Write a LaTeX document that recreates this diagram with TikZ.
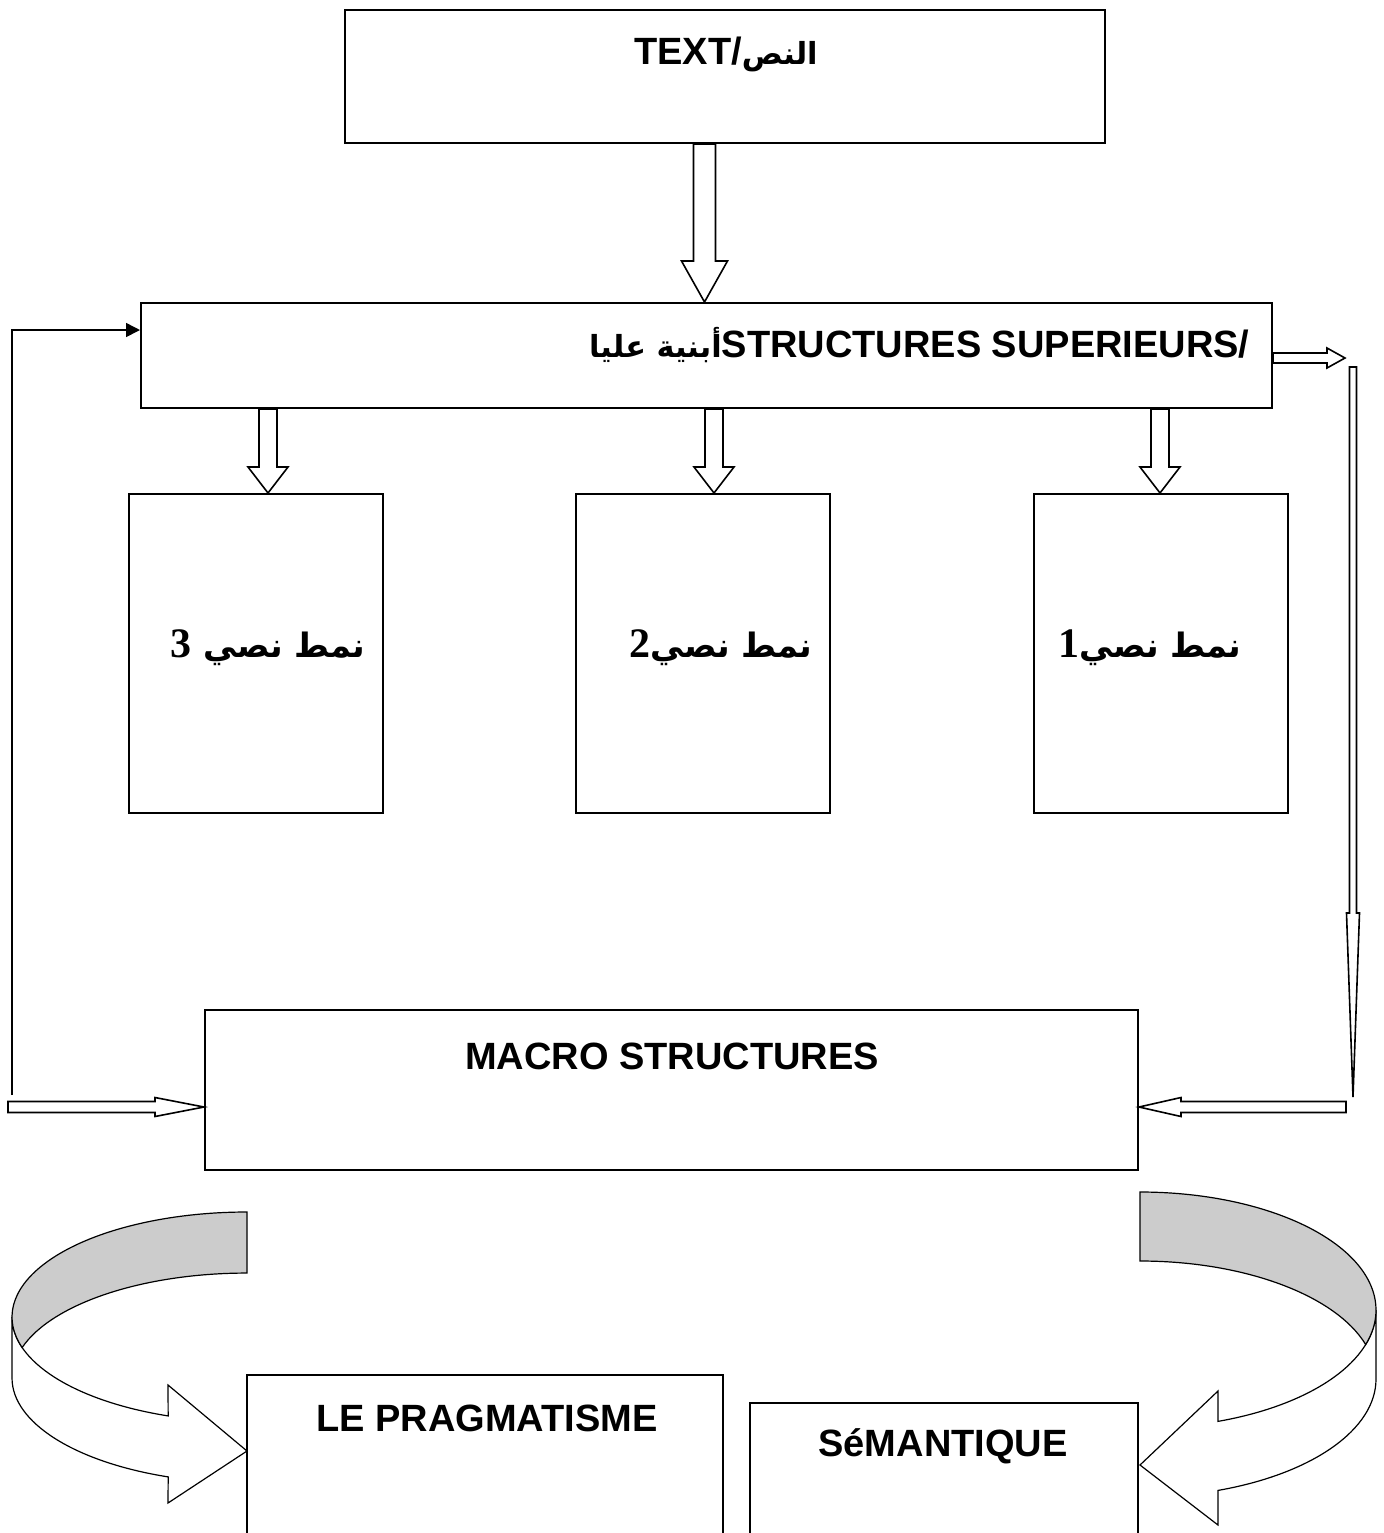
\documentclass[tikz,border=0pt]{standalone}
\usepackage{fontspec}
\setmainfont{Liberation Sans}
\newfontfamily\arabicfont[Script=Arabic, Scale=0.8]{DejaVu Sans}
\newfontfamily\numfont{Liberation Serif}
\TeXXeTstate=1
\usetikzlibrary{arrows.meta,calc}
\definecolor{bandG}{RGB}{204,204,204}

\begin{document}
\begin{tikzpicture}[x=0.5pt, y=0.5pt,
    box/.style={rectangle, draw=black, line width=1.0pt, inner sep=0pt},
    hollow/.style={draw=black, line width=0.8pt, fill=white},
    band/.style={draw=black, line width=0.6pt},
    lbl/.style={font=\fontsize{19}{23}\selectfont\bfseries, inner sep=0pt},
    ar/.style={font=\arabicfont\fontsize{21}{25}\selectfont\bfseries, inner sep=0pt},
  ]
  \useasboundingbox (0,0) rectangle (1383,-1533);
  \clip (0,0) rectangle (1383,-1533);

  % hollow block arrows: #1 start, #2 tip, #3 shaft half, #4 head half, #5 head length
  \newcommand{\downblk}[5]{%
    \draw[hollow] ($(#1)+(-#3,0)$) -- ($(#2)+(-#3,#5)$) -- ($(#2)+(-#4,#5)$) -- (#2)
      -- ($(#2)+(#4,#5)$) -- ($(#2)+(#3,#5)$) -- ($(#1)+(#3,0)$) -- cycle;}
  \newcommand{\rightblk}[5]{%
    \draw[hollow] ($(#1)+(0,#3)$) -- ($(#2)+(-#5,#3)$) -- ($(#2)+(-#5,#4)$) -- (#2)
      -- ($(#2)+(-#5,-#4)$) -- ($(#2)+(-#5,-#3)$) -- ($(#1)+(0,-#3)$) -- cycle;}
  \newcommand{\leftblk}[5]{%
    \draw[hollow] ($(#1)+(0,#3)$) -- ($(#2)+(#5,#3)$) -- ($(#2)+(#5,#4)$) -- (#2)
      -- ($(#2)+(#5,-#4)$) -- ($(#2)+(#5,-#3)$) -- ($(#1)+(0,-#3)$) -- cycle;}

  % boxes
  \node[box, minimum width=380pt, minimum height=66.5pt] (txt) at (725,-76.5) {};
  \node[lbl] (txtL) at (726,-54) {TEXT/{\arabicfont\beginR النص\endR}};

  \node[box, minimum width=565.5pt, minimum height=52.5pt] (sup) at (706.5,-355.5) {};
  \node[lbl, anchor=east] (supL) at (1250,-345)
    {{\arabicfont\beginR أبنية عليا\endR}STRUCTURES SUPERIEURS/};

  \node[box, minimum width=127pt, minimum height=159.5pt] (nt3) at (256,-653.5) {};
  \node[box, minimum width=127pt, minimum height=159.5pt] (nt2) at (703,-653.5) {};
  \node[box, minimum width=127pt, minimum height=159.5pt] (nt1) at (1161,-653.5) {};
  \node[ar, anchor=east] (nt3L) at (366,-648) {{\numfont 3} \beginR نمط نصي\endR};
  \node[ar, anchor=east] (nt2L) at (813,-648) {{\numfont 2}\beginR نمط نصي\endR};
  \node[ar, anchor=east] (nt1L) at (1242,-648) {{\numfont 1}\beginR نمط نصي\endR};

  \node[box, minimum width=466.5pt, minimum height=80pt] (macro) at (671.5,-1090) {};
  \node[lbl] (macroL) at (672,-1056) {MACRO STRUCTURES};

  \node[box, minimum width=238pt, minimum height=85pt] (prag) at (485,-1460) {};
  \node[lbl] (pragL) at (487,-1418) {LE PRAGMATISME};
  \node[box, minimum width=194pt, minimum height=71pt] (sem) at (944,-1474) {};
  \node[lbl] (semL) at (943,-1446) {SéMANTIQUE};

  % down arrows
  \coordinate (t0) at ($(sup.north)+(-2,0)$);
  \downblk{txt.south -| t0}{t0}{11}{23}{41}
  \coordinate (t3) at ($(nt3.north)+(12,0)$);
  \coordinate (t2) at ($(nt2.north)+(11,0)$);
  \coordinate (t1) at ($(nt1.north)+(-1,0)$);
  \downblk{sup.south -| t3}{t3}{9}{20}{26}
  \downblk{sup.south -| t2}{t2}{9}{20}{26}
  \downblk{sup.south -| t1}{t1}{9}{20}{26}

  % feedback loop on the left
  \coordinate (fbEnd) at (12,-1095);
  \draw[line width=0.8pt, -{Triangle[length=7pt,width=7pt]}] (fbEnd) |- ($(sup.west)+(0,25.5)$);
  \coordinate (blStart) at (8,-1107);
  \coordinate (blTip) at ($(macro.west)+(0,-17)$);
  \rightblk{blStart}{blTip}{5.5}{9.5}{49}

  % right side
  \coordinate (rTip) at (1345,-358);
  \rightblk{sup.east |- rTip}{rTip}{5}{10}{18}
  \coordinate (vTop) at (1353,-367);
  \coordinate (vTip) at (1353,-1097);
  \downblk{vTop}{vTip}{3.5}{6.5}{184}
  \coordinate (brStart) at (1346,-1107);
  \coordinate (brTip) at ($(macro.east)+(0,-17)$);
  \leftblk{brStart}{brTip}{5.5}{9.5}{42}

  % curved ribbon arrows
  \draw[band, fill=white] (12,-1317) arc[start angle=180, end angle=250.4, x radius=235, y radius=105]
    -- (168,-1385) -- (247,-1451) -- (168,-1503) -- (168.2,-1476.9)
    arc[start angle=250.4, end angle=180, x radius=235, y radius=105] -- cycle;
  \draw[band, fill=bandG] (247,-1212) arc[start angle=90, end angle=196.9, x radius=235, y radius=105]
    arc[start angle=163.1, end angle=90, x radius=235, y radius=105] -- cycle;

  \draw[band, fill=white] (1376,-1310) arc[start angle=0, end angle=-70.7, x radius=236, y radius=118]
    -- (1218,-1391) -- (1140,-1465) -- (1218,-1525) -- (1218,-1490.4)
    arc[start angle=-70.7, end angle=0, x radius=236, y radius=118] -- cycle;
  \draw[band, fill=bandG] (1140,-1192) arc[start angle=90, end angle=-17, x radius=236, y radius=118]
    arc[start angle=17, end angle=90, x radius=236, y radius=118] -- cycle;

\end{tikzpicture}
\end{document}
